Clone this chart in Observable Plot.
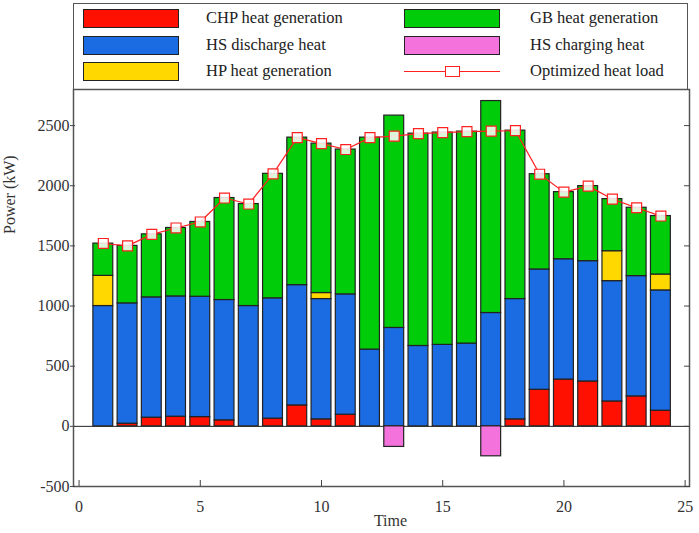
<!DOCTYPE html>
<html>
<head>
<meta charset="utf-8">
<script src="https://cdn.jsdelivr.net/npm/d3@7"></script>
<script src="https://cdn.jsdelivr.net/npm/@observablehq/plot@0.6"></script>
<style>
  html, body { margin: 0; padding: 0; background: #fff; }
  #wrap { width: 699px; font-family: "Liberation Serif", "DejaVu Serif", serif; color: #222; }
  #legend { position: relative; width: 699px; height: 88px; }
  #legend .box { position: absolute; left: 73px; top: 3px; width: 615px; height: 86px; border: 1.5px solid #555; border-bottom: none; box-sizing: border-box; }
  #legend .sw { position: absolute; width: 96px; height: 19px; border: 1.3px solid #222; box-sizing: border-box; }
  #legend .lbl { position: absolute; font-size: 16.5px; line-height: 20px; white-space: nowrap; }
  #legend .ln { position: absolute; height: 1.2px; width: 96px; }
  #legend .mk { position: absolute; width: 15px; height: 11px; border: 1.2px solid; box-sizing: border-box; background: #fff; }
  svg { display: block; }
</style>
</head>
<body>
<div id="wrap">
  <div id="legend"></div>
  <div id="chart"></div>
</div>
<script>
// ---- data ----
const hours = [1,2,3,4,5,6,7,8,9,10,11,12,13,14,15,16,17,18,19,20,21,22,23,24];
const chpHeat = [0,22,72,80,77,50,0,64,174,58,97,0,0,0,0,0,0,58,304,389,373,207,249,130];
const hsDischarge = [1000,1000,1000,1000,1000,1000,1000,1000,1000,1000,1000,638,818,668,677,688,942,1000,1000,1000,1000,1000,1000,1000];
const hpHeat = [251,0,0,0,0,0,0,0,0,50,0,0,0,0,0,0,0,0,0,0,0,249,0,132];
const gbHeat = [268,478,524,569,622,848,848,1035,1226,1242,1204,1762,1765,1765,1765,1762,1762,1400,792,558,624,433,568,486];
const hsCharging = [0,0,0,0,0,0,0,0,0,0,0,0,-171,0,0,0,-249,0,0,0,0,0,0,0];
const heatLoad = [1520,1500,1596,1649,1699,1898,1848,2099,2400,2350,2301,2400,2412,2433,2442,2450,2454,2458,2096,1947,1997,1889,1817,1748];
const xTicks = [0,5,10,15,20,25];
const yTicks = [-500,0,500,1000,1500,2000,2500];

const seriesNames = ["CHP heat generation","HS discharge heat","HP heat generation","GB heat generation","HS charging heat","Optimized heat load"];
const seriesColors = ["#ff1000","#1b6be3","#ffd800","#00cc0a","#f472dc","#ff2020"];

// ---- stacked segments ----
const positive = [chpHeat, hsDischarge, hpHeat, gbHeat];
const segs = [];
hours.forEach((t, i) => {
  let base = 0;
  positive.forEach((arr, k) => {
    const v = arr[i];
    if (v > 0) segs.push({t, y1: base, y2: base + v, s: k});
    base += v;
  });
  if (hsCharging[i] < 0) segs.push({t, y1: hsCharging[i], y2: 0, s: 4});
});
const loadData = hours.map((t, i) => ({t, v: heatLoad[i]}));
const hw = 0.41;
const red = seriesColors[5];
const fmt = d => String(d);

const chart = Plot.plot({
  width: 699,
  height: 444,
  marginTop: 1,
  marginBottom: 46,
  marginLeft: 73,
  marginRight: 10,
  style: {fontFamily: "'Liberation Serif', 'DejaVu Serif', serif", fontSize: "16px", color: "#333", background: "#fff"},
  x: {domain: [-0.23, 25.18], ticks: xTicks},
  y: {domain: [-500, 2800], ticks: yTicks},
  marks: [
    Plot.ruleY([0], {stroke: "#222", strokeWidth: 1}),
    Plot.rect(segs, {
      x1: d => d.t - hw, x2: d => d.t + hw, y1: "y1", y2: "y2",
      fill: d => seriesColors[d.s], stroke: "#222", strokeWidth: 1.2
    }),
    Plot.line(loadData, {x: "t", y: "v", stroke: red, strokeWidth: 1.2}),
    Plot.dot(loadData, {x: "t", y: "v", symbol: "square", r: 5.6, stroke: red, strokeWidth: 1.2, fill: "#fff", fillOpacity: 0.85}),
    Plot.frame({stroke: "#555", strokeWidth: 1.5}),
    Plot.axisY(yTicks, {anchor: "left", tickSize: 5, dx: 2, tickPadding: 1, tickFormat: fmt, label: null, fill: "#333", stroke: "#444"}),
    Plot.axisY(yTicks, {anchor: "right", tickSize: 6, dx: -6, tickFormat: () => "", label: null, stroke: "#444"}),
    Plot.axisX(xTicks, {anchor: "bottom", tickSize: 6, dy: -6, tickFormat: () => "", label: null, stroke: "#444"}),
    Plot.axisX(xTicks, {anchor: "bottom", tickSize: 0, tickPadding: 14, tickFormat: fmt, label: null, fill: "#333"}),
    Plot.text(["Time"], {frameAnchor: "bottom", dy: 39, dx: 9, fill: "#333", fontSize: 16}),
    Plot.text(["Power (kW)"], {frameAnchor: "left", rotate: -90, dx: -64, dy: -54, fill: "#333", fontSize: 16})
  ]
});
document.getElementById("chart").appendChild(chart);

// ---- legend (HTML, above the SVG) ----
const leg = document.getElementById("legend");
const box = document.createElement("div"); box.className = "box"; leg.appendChild(box);
const rowsTop = [9, 36, 62];
const cols = [{sx: 83, tx: 206}, {sx: 404, tx: 530}];
const order = [[0,3],[1,4],[2,5]];
order.forEach((pair, r) => {
  pair.forEach((s, c) => {
    const top = rowsTop[r];
    if (s === 5) {
      const ln = document.createElement("div"); ln.className = "ln";
      ln.style.left = cols[c].sx + "px"; ln.style.top = (top + 9) + "px"; ln.style.background = red;
      leg.appendChild(ln);
      const mk = document.createElement("div"); mk.className = "mk";
      mk.style.left = (cols[c].sx + 41) + "px"; mk.style.top = (top + 4) + "px"; mk.style.borderColor = red;
      leg.appendChild(mk);
    } else {
      const sw = document.createElement("div"); sw.className = "sw";
      sw.style.left = cols[c].sx + "px"; sw.style.top = top + "px"; sw.style.background = seriesColors[s];
      leg.appendChild(sw);
    }
    const lb = document.createElement("div"); lb.className = "lbl";
    lb.style.left = cols[c].tx + "px"; lb.style.top = (top - 1) + "px";
    lb.textContent = seriesNames[s];
    leg.appendChild(lb);
  });
});
</script>
</body>
</html>
